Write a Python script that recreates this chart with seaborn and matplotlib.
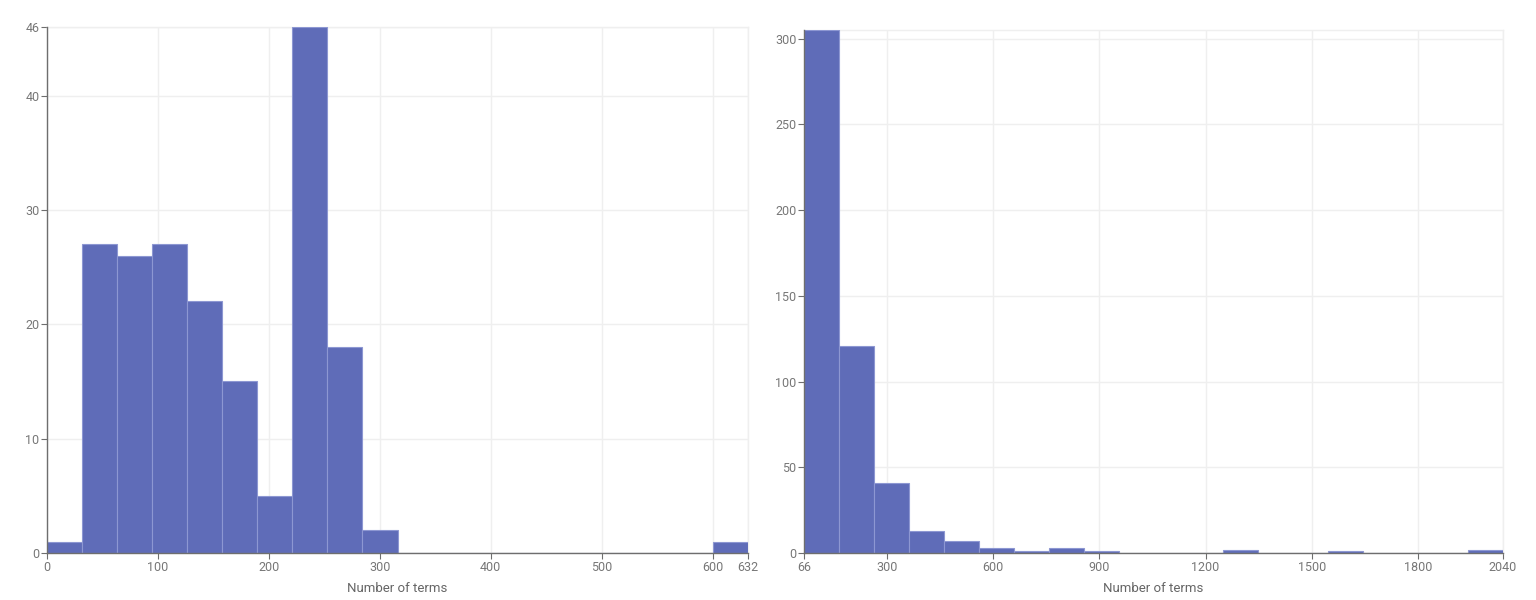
import numpy as np
import pandas as pd
import matplotlib
matplotlib.use("Agg")
import matplotlib.pyplot as plt
import seaborn as sns

# ---- data (bin counts) ----
left_min, left_max, left_nbins = 0, 632, 20
left_counts = [1, 27, 26, 27, 22, 15, 5, 46, 18, 2, 0, 0, 0, 0, 0, 0, 0, 0, 0, 1]
left_xticks = [0, 100, 200, 300, 400, 500, 600, 632]
left_yticks = [0, 10, 20, 30, 40, 46]

right_min, right_max, right_nbins = 66, 2040, 20
right_counts = [305, 121, 41, 13, 7, 3, 1, 3, 1, 0, 0, 0, 2, 0, 0, 1, 0, 0, 0, 2]
right_xticks = [66, 300, 600, 900, 1200, 1500, 1800, 2040]
right_yticks = [0, 50, 100, 150, 200, 250, 300]
right_ymax = 305

xlabel = "Number of terms"

BAR = "#5f6cb8"
EDGE = "#8d97d2"
GRID = "#efefef"
AXIS = "#6e6e6e"
TXT = "#777777"

sns.set_theme(style="white")
plt.rcParams["font.family"] = ["Roboto", "DejaVu Sans"]

fig = plt.figure(figsize=(15.36, 6.0), dpi=100)
W, H = 1536, 600
axL = fig.add_axes([47 / W, 47 / H, 701 / W, 526 / H])
axR = fig.add_axes([804 / W, 47 / H, 699 / W, 523 / H])


def draw(ax, lo, hi, nb, counts, xticks, yticks, ymax):
    edges = np.linspace(lo, hi, nb + 1)
    centers = (edges[:-1] + edges[1:]) / 2
    df = pd.DataFrame({"x": centers, "w": np.asarray(counts, dtype=float)})
    sns.histplot(data=df, x="x", weights="w", bins=nb, binrange=(lo, hi), ax=ax,
                 color=BAR, alpha=1.0, edgecolor=EDGE, linewidth=0.8, zorder=3)
    ax.set_xlim(lo, hi)
    ax.set_ylim(0, ymax)
    ax.set_xticks(xticks)
    ax.set_yticks(yticks)
    ax.set_xticklabels([str(t) for t in xticks])
    ax.set_yticklabels([str(t) for t in yticks])
    ax.grid(True, color=GRID, linewidth=1.0, zorder=0)
    ax.set_axisbelow(True)
    for s in ["top", "right"]:
        ax.spines[s].set_color(GRID)
        ax.spines[s].set_linewidth(1.0)
    for s in ["left", "bottom"]:
        ax.spines[s].set_color(AXIS)
        ax.spines[s].set_linewidth(1.0)
        ax.spines[s].set_zorder(5)
    ax.tick_params(axis="both", which="both", direction="out", length=4,
                   width=0.8, color=AXIS, labelcolor=TXT, labelsize=9, pad=1.5,
                   bottom=True, left=True)
    ax.set_ylabel("")
    ax.set_xlabel(xlabel, fontsize=9.5, color="#666666", labelpad=6)


draw(axL, left_min, left_max, left_nbins, left_counts, left_xticks, left_yticks, max(left_counts))
draw(axR, right_min, right_max, right_nbins, right_counts, right_xticks, right_yticks, right_ymax)

fig.savefig("out.png", dpi=100, facecolor="white")
